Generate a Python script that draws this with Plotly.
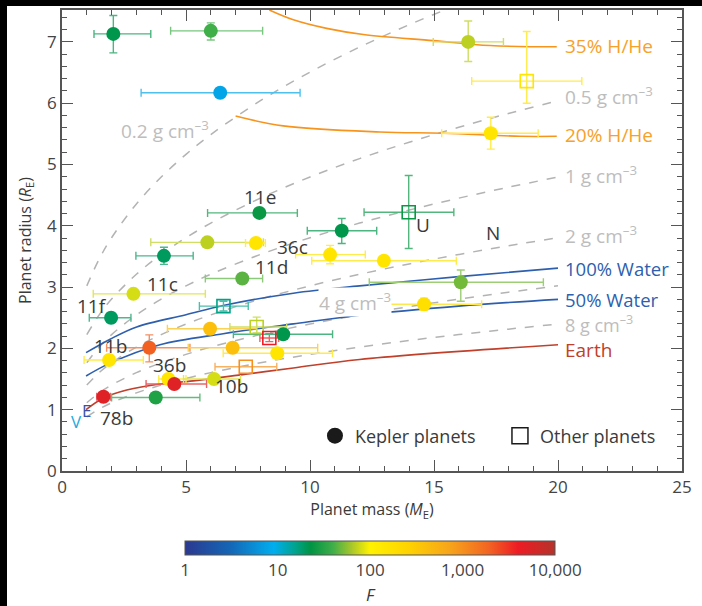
import plotly.graph_objects as go
from plotly.colors import sample_colorscale, unlabel_rgb
import math

# ---------------- data ----------------
mass   = [2.07, 6.00, 6.38, 16.38, 18.74, 17.29, 7.96, 11.28, 13.98, 5.86, 7.82, 4.11, 7.27, 10.81, 12.98,
          2.88, 1.98, 16.08, 14.60, 6.51, 5.97, 7.85, 8.36, 8.92, 3.52, 1.90, 6.88, 8.68, 7.41, 4.29,
          4.53, 6.13, 1.67, 3.78]
radius = [7.13, 7.18, 6.17, 7.00, 6.36, 5.51, 4.21, 3.92, 4.22, 3.73, 3.72, 3.51, 3.14, 3.53, 3.43,
          2.89, 2.50, 3.08, 2.72, 2.69, 2.32, 2.35, 2.17, 2.23, 2.01, 1.81, 2.01, 1.92, 1.70, 1.50,
          1.42, 1.50, 1.21, 1.20]
mass_lo = [1.29, 4.38, 3.19, 14.97, 16.52, 15.31, 5.87, 9.89, 12.18, 3.58, 7.40, 2.98, 5.78, 9.42, 10.07,
           1.26, 1.10, 12.39, 12.22, 5.54, 4.25, 6.77, 7.98, 6.91, 1.80, 0.89, 5.09, 6.50, 6.17, 3.90,
           3.39, 4.90, 1.40, 2.00]
mass_hi = [3.58, 8.09, 9.60, 17.80, 20.96, 19.20, 9.49, 12.69, 15.80, 8.12, 8.20, 5.29, 8.09, 12.23, 15.90,
           5.78, 2.78, 19.41, 16.92, 7.51, 7.85, 9.06, 8.74, 10.91, 5.16, 3.28, 10.31, 10.91, 8.66, 5.00,
           5.83, 7.20, 1.95, 5.56]
rad_lo = [6.82, 7.03, None, 6.68, 6.00, 5.25, None, 3.71, 3.63, None, None, 3.37, None, 3.38, None,
          None, None, 2.77, 2.62, 2.61, None, 2.25, 2.11, None, 1.78, None, None, None, None, None,
          None, None, None, None]
rad_hi = [7.43, 7.31, None, 7.34, 7.17, 5.77, None, 4.12, 4.82, None, None, 3.65, None, 3.68, None,
          None, None, 3.28, 2.82, 2.77, None, 2.51, 2.24, None, 2.22, None, None, None, None, None,
          None, None, None, None]
flux = [22, 40, 8, 70, 150, 150, 25, 22, 25, 70, 150, 20, 45, 150, 150,
        80, 20, 50, 180, 16, 400, 70, 4000, 22, 2000, 150, 400, 150, 1000, 150,
        5000, 80, 5000, 30]
kind = ["K", "K", "K", "K", "O", "K", "K", "K", "O", "K", "K", "K", "K", "K", "K",
        "K", "K", "K", "K", "O", "K", "O", "O", "K", "K", "K", "K", "K", "O", "K",
        "K", "K", "K", "K"]

# composition curves
hhe35_m = [8.36, 9.33, 10.67, 12.15, 14.97, 17.26, 19.95]
hhe35_r = [7.52, 7.36, 7.22, 7.12, 7.02, 6.94, 6.92]
hhe20_m = [7.00, 8.92, 12.82, 15.37, 18.47, 19.95]
hhe20_r = [5.79, 5.63, 5.53, 5.51, 5.46, 5.46]
w100_m = [0.97, 1.94, 3.01, 5.00, 6.50, 9.33, 12.00, 16.00, 20.00]
w100_r = [1.93, 2.15, 2.35, 2.55, 2.70, 2.90, 3.02, 3.17, 3.31]
w50_m = [0.97, 1.94, 3.95, 6.50, 9.33, 12.00, 16.00, 20.00]
w50_r = [1.55, 1.76, 2.06, 2.24, 2.40, 2.54, 2.69, 2.80]
earth_m = [0.97, 1.67, 2.61, 3.95, 5.29, 7.41, 9.33, 12.00, 20.00]
earth_r = [1.00, 1.19, 1.32, 1.42, 1.47, 1.58, 1.68, 1.82, 2.06]

dens_m = [1, 1.5, 2, 3, 4, 5, 6, 8, 10, 12, 14, 16, 18, 20]
d02_m = [1, 1.5, 2, 3, 4, 5, 6, 8, 10, 12, 14, 15.31]
d02_r = [3.02, 3.457, 3.805, 4.356, 4.795, 5.165, 5.488, 6.04, 6.507, 6.915, 7.28, 7.50]
d05_r = [2.225, 2.547, 2.804, 3.209, 3.532, 3.805, 4.044, 4.451, 4.795, 5.096, 5.363, 5.607, 5.832, 6.04]
d1_r = [1.766, 2.022, 2.225, 2.547, 2.804, 3.02, 3.209, 3.532, 3.805, 4.044, 4.256, 4.451, 4.629, 4.795]
d2_r = [1.402, 1.605, 1.766, 2.022, 2.225, 2.397, 2.547, 2.804, 3.02, 3.209, 3.378, 3.532, 3.674, 3.805]
d4_r = [1.113, 1.274, 1.402, 1.605, 1.766, 1.902, 2.022, 2.225, 2.397, 2.547, 2.681, 2.804, 2.916, 3.02]
d8_r = [0.883, 1.011, 1.113, 1.274, 1.402, 1.510, 1.605, 1.766, 1.902, 2.022, 2.129, 2.225, 2.314, 2.397]

cbar_vals = [1, 10, 100, 1000, 10000]
cbar_text = ["1", "10", "100", "1,000", "10,000"]

# ---------------- styling ----------------
FONT = "Open Sans"
TXT = "#3a3a3a"
AX = "#555555"
colorscale = [
    [0.00, "#2b3990"], [0.12, "#1565b5"], [0.24, "#00aeef"], [0.30, "#00a38a"],
    [0.34, "#009444"], [0.40, "#3fae49"], [0.45, "#a8c62c"], [0.50, "#fff200"],
    [0.60, "#ffd400"], [0.72, "#f7a21b"], [0.82, "#f26522"], [0.90, "#ed1c24"],
    [1.00, "#b5332b"],
]
logF = [math.log10(f) for f in flux]

def lighten(c, a=0.35):
    r, g, b = unlabel_rgb(c) if c.startswith("rgb") else tuple(int(c[i:i+2], 16) for i in (1, 3, 5))
    return "rgb(%d,%d,%d)" % (r + (255 - r) * a, g + (255 - g) * a, b + (255 - b) * a)

fig = go.Figure()

def line(xs, ys, color, dash=None, width=1.6):
    fig.add_trace(go.Scatter(x=xs, y=ys, mode="lines", line=dict(color=color, width=width, dash=dash, shape="spline"),
                             showlegend=False, hoverinfo="skip"))

DASH = "#b3b3b3"
for rs in [d05_r, d1_r, d2_r, d4_r, d8_r]:
    line(dens_m, rs, DASH, dash="dash", width=1.5)
line(d02_m, d02_r, DASH, dash="dash", width=1.5)
line(hhe35_m, hhe35_r, "#f7941d")
line(hhe20_m, hhe20_r, "#f7941d")
line(w100_m, w100_r, "#2d5fae")
line(w50_m, w50_r, "#2d5fae")
line(earth_m, earth_r, "#c0402b")

# error bars, one trace per point so each gets its own colour
for i in range(len(mass)):
    c = sample_colorscale(colorscale, [logF[i] / 4.0])[0]
    ec = lighten(c, 0.3)
    ey = None
    if rad_lo[i] is not None:
        ey = dict(type="data", symmetric=False, array=[rad_hi[i] - radius[i]],
                  arrayminus=[radius[i] - rad_lo[i]], color=ec, thickness=1.4, width=4)
    fig.add_trace(go.Scatter(
        x=[mass[i]], y=[radius[i]], mode="markers",
        marker=dict(size=1, color="rgba(0,0,0,0)"),
        error_x=dict(type="data", symmetric=False, array=[mass_hi[i] - mass[i]],
                     arrayminus=[mass[i] - mass_lo[i]], color=ec, thickness=1.4, width=4),
        error_y=ey, showlegend=False, hoverinfo="skip"))

kx = [m for m, k in zip(mass, kind) if k == "K"]
ky = [r for r, k in zip(radius, kind) if k == "K"]
kc = [f for f, k in zip(logF, kind) if k == "K"]
ox = [m for m, k in zip(mass, kind) if k == "O"]
oy = [r for r, k in zip(radius, kind) if k == "O"]
oc = [f for f, k in zip(logF, kind) if k == "O"]

fig.add_trace(go.Scatter(x=kx, y=ky, mode="markers", showlegend=False,
                         marker=dict(size=14, color=kc, coloraxis="coloraxis", symbol="circle",
                                     line=dict(width=0))))
fig.add_trace(go.Scatter(x=ox, y=oy, mode="markers", showlegend=False,
                         marker=dict(size=13, color=oc, coloraxis="coloraxis", symbol="square-open",
                                     line=dict(width=1.6))))

# legend entries
fig.add_trace(go.Scatter(x=[None], y=[None], mode="markers", name="Kepler planets",
                         marker=dict(size=16, color="#1a1a1a", symbol="circle")))
fig.add_trace(go.Scatter(x=[None], y=[None], mode="markers", name="Other planets",
                         marker=dict(size=16, color="#1a1a1a", symbol="square-open", line=dict(width=1.5))))

ann = []
def label(x, y, text, color=TXT, size=19, xanchor="center", bg=None):
    d = dict(x=x, y=y, text=text, showarrow=False, xanchor=xanchor, yanchor="middle",
             font=dict(family=FONT, size=size, color=color))
    if bg:
        d["bgcolor"] = bg
        d["borderpad"] = 0
    ann.append(d)

for t, x, y in [("11e", 7.98, 4.47), ("36c", 9.31, 3.66), ("11d", 8.46, 3.33), ("11c", 4.06, 3.05),
                ("11f", 1.22, 2.69), ("11b", 1.94, 2.04), ("36b", 4.35, 1.73), ("10b", 6.84, 1.38),
                ("78b", 2.18, 0.87), ("U", 14.57, 4.01), ("N", 17.37, 3.88)]:
    label(x, y, t)
label(1.0, 0.98, "E", color="#3a52a8", size=17)
label(0.59, 0.80, "V", color="#2aa8dc", size=17)

LG = "#bdbdbd"
XR = 20.2
label(XR, 6.93, "35% H/He", color="#f7a12a", xanchor="left")
label(XR, 6.12, "0.5 g cm<sup>–3</sup>", color=LG, xanchor="left")
label(XR, 5.48, "20% H/He", color="#f7a12a", xanchor="left")
label(XR, 4.83, "1 g cm<sup>–3</sup>", color=LG, xanchor="left")
label(XR, 3.85, "2 g cm<sup>–3</sup>", color=LG, xanchor="left")
label(XR, 3.31, "100% Water", color="#2d5fae", xanchor="left", size=18.5)
label(XR, 2.79, "50% Water", color="#2d5fae", xanchor="left", size=18.5)
label(XR, 2.40, "8 g cm<sup>–3</sup>", color=LG, xanchor="left", size=18)
label(XR, 1.97, "Earth", color="#c0402b", xanchor="left")
label(4.15, 5.56, "0.2 g cm<sup>–3</sup>", color=LG)
label(11.81, 2.76, "4 g cm<sup>–3</sup>", color=LG, bg="white")

axis_common = dict(showline=True, linecolor=AX, linewidth=1.5, mirror="ticks", ticks="inside",
                   ticklen=11, tickwidth=1.4, tickcolor=AX, showgrid=False, zeroline=False,
                   tickfont=dict(family=FONT, size=17, color="#444"))

fig.update_layout(
    width=695, height=600,
    margin=dict(l=55, r=20, t=4, b=135, autoexpand=False),
    paper_bgcolor="white", plot_bgcolor="white",
    font=dict(family=FONT, color=TXT),
    annotations=ann,
    xaxis=dict(range=[0, 25], dtick=5, tick0=0,
               minor=dict(dtick=1, ticks="inside", ticklen=5, tickcolor=AX, tickwidth=1.2),
               title=dict(text="Planet mass (<i>M</i><sub>E</sub>)", font=dict(family=FONT, size=16, color=TXT),
                          standoff=4),
               **axis_common),
    yaxis=dict(range=[0, 7.52], dtick=1, tick0=0,
               minor=dict(dtick=0.2, ticks="inside", ticklen=5, tickcolor=AX, tickwidth=1.2),
               title=dict(text="Planet radius (<i>R</i><sub>E</sub>)", font=dict(family=FONT, size=16, color=TXT),
                          standoff=12),
               **axis_common),
    coloraxis=dict(
        colorscale=colorscale, cmin=0, cmax=4,
        colorbar=dict(orientation="h", x=0.497, xanchor="center", y=-0.130, yanchor="top",
                      lenmode="pixels", len=390, thickness=14, outlinewidth=1, outlinecolor="#555",
                      tickvals=[math.log10(v) for v in cbar_vals], ticktext=cbar_text, ticks="",
                      tickfont=dict(family=FONT, size=17, color="#444"),
                      title=dict(text="<i>F</i>", side="bottom", font=dict(family=FONT, size=17, color=TXT))),
    ),
    legend=dict(orientation="h", x=0.408, y=0.076, xanchor="left", yanchor="middle",
                font=dict(family=FONT, size=18, color=TXT), bgcolor="rgba(0,0,0,0)",
                itemwidth=30, entrywidth=140, entrywidthmode="pixels"),
)

fig.write_html(
    "out.html",
    config={"displayModeBar": False},
    post_script=("document.body.style.margin='0';"
                 "document.body.style.padding='6px 0 0 7px';"
                 "document.body.style.background='black';"
                 "document.body.style.overflow='hidden';"),
)
